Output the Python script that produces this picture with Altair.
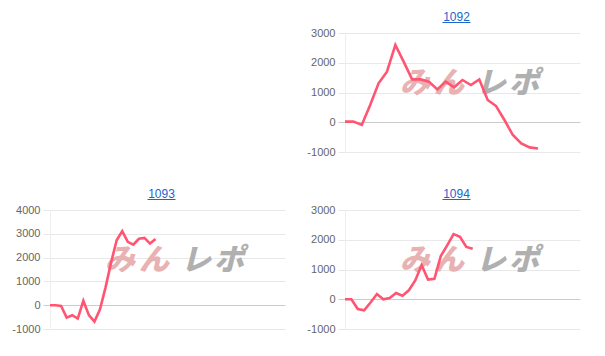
import altair as alt
import pandas as pd

# ---- data ----
names = ["1092", "1093", "1094"]

vals_1092 = [20, 20, -90, 580, 1310, 1700, 2600, 2030, 1440, 1440, 1365, 1105,
             1365, 1175, 1420, 1250, 1440, 750, 545, 75, -430, -710, -845, -880]
vals_1093 = [0, 0, -30, -520, -420, -560, 190, -420, -690, -170, 750, 1800,
             2730, 3110, 2660, 2540, 2790, 2830, 2590, 2780]
vals_1094 = [0, 0, -330, -370, -110, 175, 0, 40, 210, 120, 300, 630, 1150,
             660, 685, 1450, 1810, 2190, 2100, 1760, 1700]

xmax = {"1092": 28, "1093": 42.3, "1094": 36.8}
yticks = {
    "1092": [-1000, 0, 1000, 2000, 3000],
    "1093": [-1000, 0, 1000, 2000, 3000, 4000],
    "1094": [-1000, 0, 1000, 2000, 3000],
}
series = {"1092": vals_1092, "1093": vals_1093, "1094": vals_1094}

W, H = 235, 119
LINE = "#ff5573"
GRID = "#e8e8e8"
ZERO = "#cccccc"


def panel(name):
    vals = series[name]
    df = pd.DataFrame({"i": list(range(len(vals))), "v": vals})
    ticks = yticks[name]
    col = {"condition": {"test": "datum.value === 0", "value": ZERO}, "value": GRID}
    y = alt.Y(
        "v:Q",
        scale=alt.Scale(domain=[ticks[0], ticks[-1]], nice=False, zero=False),
        axis=alt.Axis(
            values=ticks, title=None, grid=True, gridColor=col, tickColor=col,
            ticks=True, tickSize=7, labelPadding=3, labelColor="#666666",
            labelFontSize=11, labelFont="Liberation Sans", domain=True,
            domainColor="#eeeeee", labelExpr="'' + datum.value",
        ),
    )
    x = alt.X("i:Q", scale=alt.Scale(domain=[0, xmax[name]], nice=False, zero=False), axis=None)

    one = pd.DataFrame({"k": [0]})
    layers = []
    for ch, px, c in [("み", 70, "#e8b2b2"), ("ん", 104, "#e8b2b2"),
                      ("レ", 146, "#b0b0b0"), ("ポ", 179, "#b0b0b0")]:
        layers.append(
            alt.Chart(one).mark_text(
                text=ch, font="Noto Sans CJK JP", fontSize=30, fontWeight=900,
                fontStyle="italic", color=c, baseline="middle", align="center",
            ).encode(x=alt.value(px), y=alt.value(51))
        )

    line = alt.Chart(df).mark_line(color=LINE, strokeWidth=2.6).encode(x=x, y=y)

    title = alt.Chart(one).mark_text(
        text=name, font="Liberation Sans", fontSize=12, color="#1a66cc",
        baseline="middle", align="center",
    ).encode(x=alt.value(W / 2 - 6), y=alt.value(-16))
    underline = alt.Chart(one).mark_rule(color="#1a66cc", strokeWidth=1).encode(
        x=alt.value(W / 2 - 6 - 14), x2=alt.value(W / 2 - 6 + 14), y=alt.value(-10.5)
    )
    return alt.layer(*layers, line, title, underline).properties(width=W, height=H)


blank = alt.Chart(pd.DataFrame({"k": [0]})).mark_text(text=" ").encode(
    x=alt.value(0), y=alt.value(0)
).properties(width=W, height=H)

chart = alt.concat(
    blank, panel("1092"), panel("1093"), panel("1094"), columns=2,
    spacing={"row": 31, "column": 21}, align="each",
).properties(
    padding={"left": 11, "top": 11, "right": 5, "bottom": 5},
    background="white",
).configure_view(stroke=None)

chart.save("out.html", embed_options={"renderer": "svg", "actions": False})
